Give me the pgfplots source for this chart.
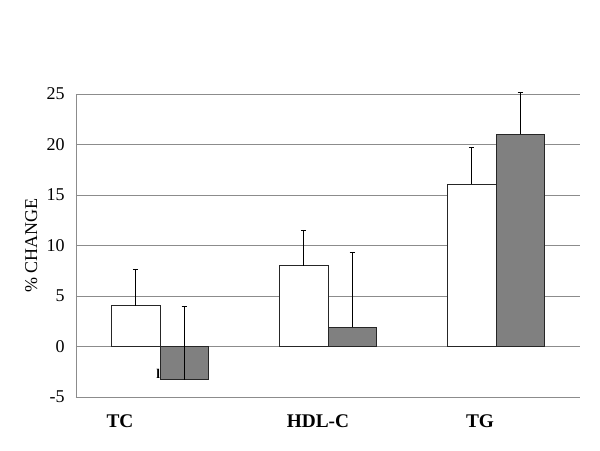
\documentclass[border=0pt]{standalone}
\usepackage{fontspec}
\setmainfont{Liberation Serif}
\usepackage{pgfplots}
\pgfplotsset{compat=1.18}
\definecolor{barGray}{HTML}{808080}
\definecolor{gridGray}{HTML}{8C8C8C}
\begin{document}
\begin{tikzpicture}
\path[use as bounding box] (0,0) rectangle (450pt,337.5pt);
\begin{axis}[
    at={(57pt,39.75pt)}, anchor=south west,
    scale only axis,
    width=378pt, height=227.25pt,
    ybar=0pt, bar width=0.29,
    xmin=-0.5, xmax=2.5,
    ymin=-5, ymax=25,
    ytick={-5,0,5,10,15,20,25},
    xtick={-0.238,0.94,1.905},
    xticklabels={TC,HDL-C,TG},
    axis x line*=bottom, axis y line*=left,
    axis line style={-, gridGray, line width=0.6pt},
    major tick length=0pt,
    ymajorgrids,
    grid style={gridGray, line width=0.6pt},
    yticklabel style={font=\fontsize{13.5}{13.5}\selectfont, xshift=-5pt},
    xticklabel style={font=\bfseries\fontsize{14.5}{14.5}\selectfont, yshift=-10pt},
    /pgf/number format/assume math mode=true,
    ylabel={\% CHANGE},
    ylabel style={font=\fontsize{13.5}{13.5}\selectfont, yshift=0pt},
    clip=false,
]
\addplot[bar shift=-0.145, fill=white, draw=black!85, line width=0.5pt,
    error bars/.cd, y dir=plus, y explicit,
    error bar style={black, line width=0.5pt},
    error mark options={rotate=90, mark size=2pt, line width=0.5pt}]
coordinates {
    (0,4.05)  +- (0,3.55)
    (1,8.0)   +- (0,3.5)
    (2,16.1)  +- (0,3.6)
};
\addplot[bar shift=0.145, fill=barGray, draw=black!85, line width=0.5pt,
    error bars/.cd, y dir=plus, y explicit,
    error bar style={black, line width=0.5pt},
    error mark options={rotate=90, mark size=2pt, line width=0.5pt}]
coordinates {
    (0,-3.3)  +- (0,7.3)
    (1,1.9)   +- (0,7.4)
    (2,21.0)  +- (0,4.2)
};
\node[font=\bfseries\fontsize{10}{10}\selectfont, inner sep=0pt] at (axis cs:-0.01,-2.7) {l};
\end{axis}
\end{tikzpicture}
\end{document}
